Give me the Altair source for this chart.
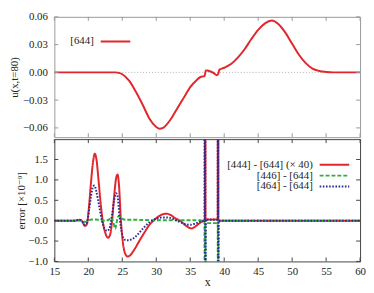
import altair as alt
import pandas as pd

FONT = "Liberation Serif, DejaVu Serif, serif"

# ---------------- data ----------------
x_ticks = [15, 20, 25, 30, 35, 40, 45, 50, 55, 60]
u_ticks = [-0.06, -0.03, 0.0, 0.03, 0.06]
err_ticks = [-1.0, -0.5, 0.0, 0.5, 1.0, 1.5]

x_u = [15, 20, 23, 24, 24.5, 25, 26, 27, 28, 29, 30, 30.5, 31, 32, 33, 34, 35, 36,
       36.5, 37.1, 37.3, 37.5, 38.5, 38.9, 39.1, 39.3, 40, 41, 42, 43, 44, 45, 46,
       47, 48, 49, 50, 51, 52, 53, 54, 55, 56, 60]
u_644 = [0, 0, 0, 0, -0.0005, -0.002, -0.009, -0.021, -0.035, -0.050, -0.059, -0.061,
         -0.060, -0.052, -0.040, -0.028, -0.016, -0.008, -0.005, -0.004, 0.002, 0.002,
         -0.001, -0.003, -0.002, 0.003, 0.005, 0.009, 0.016, 0.025, 0.036, 0.046, 0.053,
         0.056, 0.052, 0.043, 0.031, 0.019, 0.010, 0.004, 0.0015, 0.0005, 0.0, 0.0]

x_444 = [15, 18.0, 18.7, 19.1, 19.5, 19.8, 20.1, 20.4, 20.7, 20.95, 21.2, 21.5, 21.8,
         22.1, 22.5, 22.9, 23.2, 23.5, 23.8, 24.1, 24.3, 24.5, 24.8, 25.1, 25.4, 25.8,
         26.2, 26.8, 27.5, 28.3, 29.0, 29.6, 30.3, 31.0, 31.5, 32.1, 32.8, 33.5, 34.2,
         34.8, 35.2, 35.7, 36.3, 36.9, 37.15, 37.2, 37.25, 39.05, 39.1, 39.15, 60]
err_444 = [0, 0, 0.02, -0.02, -0.13, -0.08, 0.35, 0.95, 1.45, 1.64, 1.5, 1.0, 0.45,
           0.02, -0.3, -0.42, -0.35, 0.0, 0.6, 1.05, 1.13, 0.9, 0.0, -0.55, -0.8, -0.88,
           -0.84, -0.7, -0.5, -0.28, -0.1, 0.0, 0.1, 0.16, 0.17, 0.14, 0.06, 0.0, -0.1,
           -0.17, -0.19, -0.15, -0.07, -0.01, 0.0, 40, 0.03, 0.03, 40, 0.0, 0.0]

x_446 = [15, 18.5, 19.0, 19.5, 20.0, 20.5, 21.5, 22.5, 23.0, 23.35, 23.7, 23.95, 24.15,
         24.4, 24.7, 25.0, 25.5, 27, 30, 33, 36, 37.1, 37.2, 37.25, 39.05, 39.1, 39.15, 60]
err_446 = [0, 0, 0.01, -0.03, 0.0, 0.03, 0.02, 0.0, 0.02, 0.08, -0.05, -0.2, -0.05,
           0.1, 0.12, 0.05, 0.02, 0.02, 0.01, 0.01, 0.01, 0.0, -40, -0.06, -0.06, -40, 0.0, 0.0]

x_464 = [15, 18.0, 18.7, 19.1, 19.5, 19.8, 20.1, 20.4, 20.7, 20.9, 21.2, 21.6, 22.0,
         22.4, 22.8, 23.1, 23.5, 23.8, 24.05, 24.3, 24.6, 25.0, 25.4, 25.9, 26.5, 27.2,
         28.0, 28.8, 29.4, 30.2, 31.0, 31.7, 32.5, 33.3, 34.2, 35.0, 35.8, 36.5, 37.1,
         37.17, 37.23, 37.28, 39.05, 39.08, 39.13, 39.18, 60]
err_464 = [0, 0, 0.02, -0.02, -0.1, -0.05, 0.25, 0.6, 0.84, 0.86, 0.7, 0.35, 0.0,
           -0.2, -0.25, -0.2, 0.15, 0.5, 0.67, 0.6, 0.1, -0.35, -0.47, -0.48, -0.45,
           -0.35, -0.2, -0.07, 0.0, 0.06, 0.08, 0.08, 0.04, -0.02, -0.08, -0.1, -0.07,
           -0.02, 0.0, 40, -40, 0.02, 0.02, 40, -40, 0.0, 0.0]

top_name = "[644]"
series_names = ["[444] - [644] (× 40)", "[446] - [644]", "[464] - [644]"]
series_colors = ["#e3262b", "#2fb03c", "#2a2a96"]
series_dashes = [[1, 0], [4, 2], [1.6, 1.6]]

# ---------------- layout ----------------
W, H1, H2 = 310, 122, 124
FRAME1 = "#999999"
FRAME2 = "#444444"
TXT = "#222222"

xs = alt.Scale(domain=[15, 60], nice=False, zero=False)
ys1 = alt.Scale(domain=[-0.07, 0.06], nice=False, zero=False)
ys2 = alt.Scale(domain=[-1.0, 2.0], nice=False, zero=False)

ax_x_top = alt.Axis(labels=False, ticks=False, domain=False, title=None, grid=False)
ax_x_bot = alt.Axis(values=x_ticks, ticks=False, domain=False, grid=False, title="x",
                    labelPadding=4, titlePadding=0, labelOverlap=False, labelFlush=False,
                    titleFontSize=12)
ax_y_top = alt.Axis(values=u_ticks, format=".2f", ticks=False, domain=False, grid=False,
                    title="u(x,t=80)", labelPadding=7, titlePadding=3, labelOverlap=False)
ax_y_bot = alt.Axis(values=err_ticks, format=".1f", ticks=False, domain=False, grid=False,
                    title="error [×10⁻⁹]", labelPadding=7, titlePadding=1, labelOverlap=False)


def tick_marks(yscale, yticks, H, color, ax_x, ax_y):
    tx = alt.Chart(pd.DataFrame({"x": x_ticks}))
    ty = alt.Chart(pd.DataFrame({"y": yticks}))
    r = dict(color=color, strokeWidth=1)
    X = alt.X("x:Q", scale=xs, axis=ax_x)
    Y = alt.Y("y:Q", scale=yscale, axis=ax_y)
    return [
        tx.mark_rule(**r).encode(x=X, y=alt.value(H), y2=alt.value(H - 4)),
        tx.mark_rule(**r).encode(x=X, y=alt.value(0), y2=alt.value(4)),
        ty.mark_rule(**r).encode(y=Y, x=alt.value(0), x2=alt.value(4)),
        ty.mark_rule(**r).encode(y=Y, x=alt.value(W), x2=alt.value(W - 4)),
    ]


def legend_entry(label, color, dash, text_right, line_x0, yrow):
    t = alt.Chart(pd.DataFrame({"s": [label]})).mark_text(
        align="right", baseline="middle", font=FONT, fontSize=11, color=TXT
    ).encode(text="s:N", x=alt.value(text_right), y=alt.value(yrow))
    r = alt.Chart(pd.DataFrame({"s": [label]})).mark_rule(
        color=color, strokeWidth=2, strokeDash=dash
    ).encode(x=alt.value(line_x0), x2=alt.value(line_x0 + 30), y=alt.value(yrow))
    return [t, r]


# ---------- top panel ----------
df_u = pd.DataFrame({"x": x_u, "y": u_644, "s": [top_name] * len(x_u)})
zero_line = alt.Chart(pd.DataFrame({"y": [0.0]})).mark_rule(
    color="#b0b0b0", strokeDash=[1, 2], strokeWidth=1
).encode(y=alt.Y("y:Q", scale=ys1, axis=ax_y_top))

u_line = alt.Chart(df_u).mark_line(
    strokeWidth=2, interpolate="monotone", clip=True, color=series_colors[0]
).encode(
    x=alt.X("x:Q", scale=xs, axis=ax_x_top),
    y=alt.Y("y:Q", scale=ys1, axis=ax_y_top),
)

top = alt.layer(
    zero_line, u_line,
    *tick_marks(ys1, u_ticks, H1, FRAME1, ax_x_top, ax_y_top),
    *legend_entry(top_name, series_colors[0], [1, 0], 40, 47, 25),
).properties(width=W, height=H1, view=alt.ViewBackground(stroke=FRAME1, strokeWidth=1))

# ---------- bottom panel ----------
rows = []
for name, xs_, ys_ in zip(series_names, [x_444, x_446, x_464], [err_444, err_446, err_464]):
    for a, b in zip(xs_, ys_):
        rows.append({"x": a, "y": b, "s": name})
df_e = pd.DataFrame(rows)

e_lines = alt.Chart(df_e).mark_line(strokeWidth=2, interpolate="monotone", clip=True).encode(
    x=alt.X("x:Q", scale=xs, axis=ax_x_bot),
    y=alt.Y("y:Q", scale=ys2, axis=ax_y_bot),
    color=alt.Color("s:N", scale=alt.Scale(domain=series_names, range=series_colors), legend=None),
    strokeDash=alt.StrokeDash("s:N", scale=alt.Scale(domain=series_names, range=series_dashes), legend=None),
)

leg_layers = []
for i, (nm, col, dsh) in enumerate(zip(series_names, series_colors, series_dashes)):
    leg_layers += legend_entry(nm, col, dsh, 262, 269, 26 + 11 * i)

bottom = alt.layer(
    e_lines, *tick_marks(ys2, err_ticks, H2, FRAME2, ax_x_bot, ax_y_bot), *leg_layers
).properties(width=W, height=H2, view=alt.ViewBackground(stroke=FRAME2, strokeWidth=1))

chart = alt.vconcat(top, bottom, spacing=0).resolve_scale(
    color="independent", strokeDash="independent"
).properties(
    padding={"left": 0, "top": 0, "right": 0, "bottom": 0}
).configure_axis(
    labelFont=FONT, labelFontSize=11, labelColor=TXT, titleFont=FONT, titleFontSize=11,
    titleColor=TXT, titleFontWeight="normal", labelFontWeight="normal", labelOverlap=False
)

chart.save("out.html", embed_options={"renderer": "svg", "actions": False})
